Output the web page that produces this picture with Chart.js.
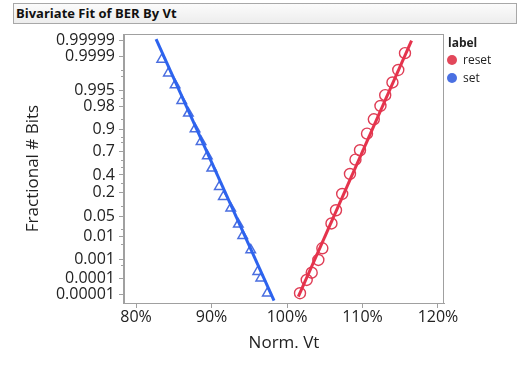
<!DOCTYPE html>
<html>
<head>
<meta charset="utf-8">
<script src="https://cdn.jsdelivr.net/npm/chart.js@4.4.1/dist/chart.umd.min.js"></script>
<style>
  body { margin: 0; background: #fff; font-family: "Open Sans", sans-serif; }
  #page { position: relative; width: 518px; height: 365px; overflow: hidden; }
  #hdr { position: absolute; left: 13px; top: 3px; width: 504px; height: 21px; box-sizing: border-box;
         border: 1px solid #a8a8a8; background: linear-gradient(#fbfbfb, #ededed);
         font-weight: bold; font-size: 13px; line-height: 19px; padding-left: 2px; color: #111; }
  #box { position: absolute; left: 0; top: 0; width: 518px; height: 365px; }
  #legend { position: absolute; left: 448px; top: 35px; font-size: 12px; color: #222; }
  #legend .t { font-weight: bold; line-height: 16px; margin-left: 0; }
  #legend .row { position: relative; height: 18px; line-height: 18px; padding-left: 15px; }
  #legend .dot { position: absolute; left: -1px; top: 4px; width: 10px; height: 10px; border-radius: 50%; }
</style>
</head>
<body>
<div id="page">
  <div id="box"><canvas id="c" width="518" height="365"></canvas></div>
  <div id="hdr">Bivariate Fit of BER By Vt</div>
  <div id="legend">
    <div class="t">label</div>
    <div class="row"><span class="dot" style="background:#e2475a"></span>reset</div>
    <div class="row"><span class="dot" style="background:#4a70e2"></span>set</div>
  </div>
</div>
<script>
// axis ticks
const xTickVals = [80, 90, 100, 110, 120];
const yTickProbs = [0.99999, 0.9999, 0.995, 0.98, 0.9, 0.7, 0.4, 0.2, 0.05, 0.01, 0.001, 0.0001, 0.00001];
const yTickLabels = ['0.99999', '0.9999', '0.995', '0.98', '0.9', '0.7', '0.4', '0.2', '0.05', '0.01', '0.001', '0.0001', '0.00001'];
const yMinorProbs = [0.9995, 0.999, 0.99, 0.95, 0.85, 0.8, 0.6, 0.5, 0.3, 0.1, 0.02, 0.005, 0.0005];

// set (triangles)
const setVt = [83.40, 84.28, 85.17, 86.05, 86.93, 87.81, 88.61, 89.44, 90.03, 91.03, 91.56, 92.54, 93.55, 94.13, 95.19, 96.12, 96.52, 97.39];
const setBits = [0.99986, 0.99924, 0.99724, 0.98768, 0.9658, 0.9023, 0.8073, 0.6506, 0.4892, 0.2592, 0.1631, 0.0850, 0.0280, 0.0109, 0.00276, 0.000228, 0.0000969, 0.0000116];

// reset (circles)
const resetVt = [101.72, 102.61, 103.27, 104.15, 104.68, 105.89, 106.49, 107.31, 108.34, 109.07, 109.67, 110.60, 111.50, 112.38, 113.01, 113.97, 114.74, 115.63];
const resetBits = [0.0000116, 0.000077, 0.00020, 0.00093, 0.00328, 0.0298, 0.0750, 0.1864, 0.4134, 0.6034, 0.7186, 0.8722, 0.9475, 0.9807, 0.9925, 0.99788, 0.99948, 0.99994];

// fit line ends
const setFitVt = [82.65, 98.28];
const setFitBits = [0.999992, 0.0000037];
const resetFitVt = [101.5, 116.5];
const resetFitBits = [0.0000069, 0.99999];

// inverse normal CDF (Acklam) for the probability axis
function probit(p) {
  const a = [-3.969683028665376e+01, 2.209460984245205e+02, -2.759285104469687e+02, 1.383577518672690e+02, -3.066479806614716e+01, 2.506628277459239e+00];
  const b = [-5.447609879822406e+01, 1.615858368580409e+02, -1.556989798598866e+02, 6.680131188771972e+01, -1.328068155288572e+01];
  const c = [-7.784894002430293e-03, -3.223964580411365e-01, -2.400758277161838e+00, -2.549671010229528e+00, 4.374664141464968e+00, 2.938163982698783e+00];
  const d = [7.784695709041462e-03, 3.224671290700398e-01, 2.445134137142996e+00, 3.754408661907416e+00];
  const pl = 0.02425;
  if (p < pl) {
    const q = Math.sqrt(-2 * Math.log(p));
    return (((((c[0]*q+c[1])*q+c[2])*q+c[3])*q+c[4])*q+c[5]) / ((((d[0]*q+d[1])*q+d[2])*q+d[3])*q+1);
  }
  if (p > 1 - pl) {
    const q = Math.sqrt(-2 * Math.log(1 - p));
    return -(((((c[0]*q+c[1])*q+c[2])*q+c[3])*q+c[4])*q+c[5]) / ((((d[0]*q+d[1])*q+d[2])*q+d[3])*q+1);
  }
  const q = p - 0.5, r = q * q;
  return (((((a[0]*r+a[1])*r+a[2])*r+a[3])*r+a[4])*r+a[5])*q / (((((b[0]*r+b[1])*r+b[2])*r+b[3])*r+b[4])*r+1);
}

function toPoints(xs, ps) {
  return xs.map((x, i) => ({ x: x, y: probit(ps[i]) }));
}

const frameLine = '#a0a0a0';
const textCol = '#222';
const fontFam = '"Open Sans", sans-serif';

// plot frame and short minor ticks on the probability axis
const frame = {
  id: 'frame',
  beforeDatasetsDraw(chart) {
    const { ctx, chartArea } = chart;
    const ys = chart.scales.y;
    ctx.save();
    ctx.strokeStyle = frameLine;
    ctx.lineWidth = 1;
    ctx.strokeRect(chartArea.left - 0.5, chartArea.top + 0.5, chartArea.right - chartArea.left, chartArea.bottom - chartArea.top);
    ctx.beginPath();
    yMinorProbs.forEach(p => {
      const py = Math.round(ys.getPixelForValue(probit(p))) + 0.5;
      ctx.moveTo(chartArea.left - 3, py);
      ctx.lineTo(chartArea.left, py);
    });
    ctx.stroke();
    ctx.restore();
  }
};

new Chart(document.getElementById('c'), {
  type: 'scatter',
  data: {
    datasets: [
      { label: 'set fit', data: toPoints(setFitVt, setFitBits), showLine: true, borderColor: '#2d63ee', borderWidth: 3, pointRadius: 0 },
      { label: 'reset fit', data: toPoints(resetFitVt, resetFitBits), showLine: true, borderColor: '#e5334c', borderWidth: 3, pointRadius: 0 },
      { label: 'set', data: toPoints(setVt, setBits), pointStyle: 'triangle', pointRadius: 5.5, borderColor: '#4a6ee0', backgroundColor: 'rgba(0,0,0,0)', pointBorderWidth: 1.5 },
      { label: 'reset', data: toPoints(resetVt, resetBits), pointStyle: 'circle', pointRadius: 5.5, borderColor: '#df3d55', backgroundColor: 'rgba(0,0,0,0)', pointBorderWidth: 1.4 }
    ]
  },
  options: {
    responsive: false,
    animation: false,
    layout: { padding: { left: 0, top: 34, right: 74, bottom: 0 } },
    plugins: { legend: { display: false }, tooltip: { enabled: false } },
    scales: {
      x: {
        type: 'linear', min: 78.4, max: 120.8,
        afterBuildTicks: s => { s.ticks = xTickVals.map(v => ({ value: v })); },
        afterFit: s => { s.height = 62; },
        ticks: { callback: v => v + '%', font: { family: fontFam, size: 16 }, color: textCol, padding: 0, maxRotation: 0 },
        grid: { drawOnChartArea: false, tickLength: 5, tickColor: frameLine },
        border: { color: frameLine },
        title: { display: true, text: 'Norm. Vt', color: textCol, font: { family: fontFam, size: 17 }, padding: { top: 0, bottom: 12 } }
      },
      y: {
        type: 'linear', min: -4.56, max: 4.49,
        afterBuildTicks: s => { s.ticks = yTickProbs.map(p => ({ value: probit(p) })); },
        afterFit: s => { s.width = 124; },
        ticks: { autoSkip: false, callback: (v, i) => yTickLabels[i], font: { family: fontFam, size: 16 }, color: textCol, padding: 4 },
        grid: { drawOnChartArea: false, tickLength: 5, tickColor: frameLine },
        border: { color: frameLine },
        title: { display: true, text: 'Fractional # Bits', color: textCol, font: { family: fontFam, size: 17 }, padding: { top: 23, bottom: 0 } }
      }
    }
  },
  plugins: [frame]
});
</script>
</body>
</html>
